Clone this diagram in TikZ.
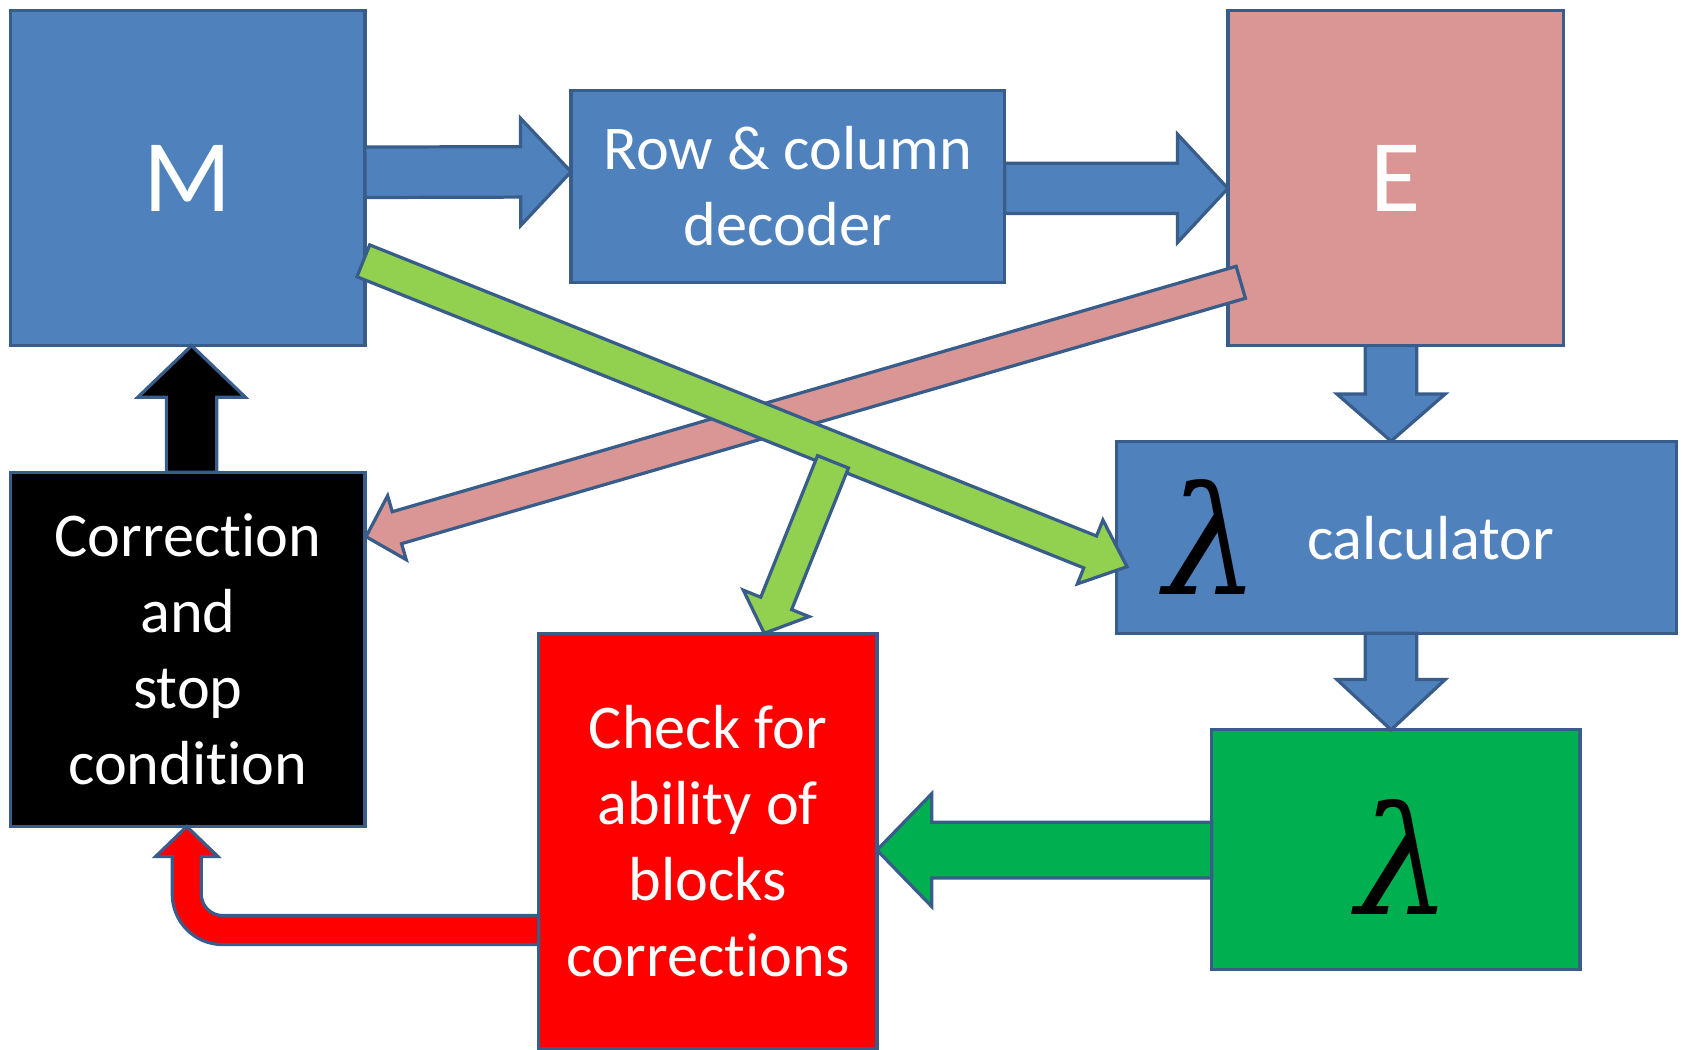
\documentclass[tikz,border=0pt]{standalone}
\usepackage{fontspec}
\setmainfont{Carlito}[Ligatures=NoCommon]
\newfontfamily\lamfont{DejaVu Serif}
\usetikzlibrary{calc}
\definecolor{bblue}{HTML}{4F81BD}
\definecolor{bordc}{HTML}{385D8A}
\definecolor{epink}{HTML}{D99694}
\definecolor{lgreen}{HTML}{92D050}
\definecolor{dgreen}{HTML}{00B050}
\definecolor{rred}{HTML}{FF0000}
% #1 fill, #2 from, #3 to, #4 shaft half width, #5 head half width, #6 head length
\newcommand\blockarrow[6]{%
  \coordinate (ba-h) at ($(#3)!#6!(#2)$);
  \filldraw[arrowline, fill=#1]
    ($(#2)!#4!90:(#3)$) -- ($(ba-h)!#4!-90:(#2)$) -- ($(ba-h)!#5!-90:(#2)$) -- (#3)
    -- ($(ba-h)!#5!90:(#2)$) -- ($(ba-h)!#4!90:(#2)$) -- ($(#2)!#4!-90:(#3)$) -- cycle;
}
\begin{document}
\begin{tikzpicture}[x=1pt,y=-1pt,
  box/.style={draw=bordc, line width=3pt, inner sep=0pt, outer sep=0pt, text=white, align=center, font=\fontsize{58}{71}\selectfont},
  big/.style={font=\fontsize{96}{110}\selectfont},
  lam/.style={inner sep=0pt, outer sep=0pt, text=black, font=\lamfont\itshape\fontsize{140}{140}\selectfont},
  lbl/.style={inner sep=0pt, outer sep=0pt, text=white, font=\fontsize{58}{71}\selectfont},
  arrowline/.style={draw=bordc, line width=3pt, line join=miter}]
\useasboundingbox (0,0) rectangle (1568,978);

% boxes
\node[box, fill=bblue, minimum width=330pt, minimum height=312pt, big] (M) at (175,166) {M};
\node[box, fill=bblue, minimum width=404pt, minimum height=179pt] (Dec) at (734,173.5) {Row \& column\\decoder};
\node[box, fill=epink, minimum width=313pt, minimum height=312pt, big] (E) at (1300.5,166) {E};
\node[box, fill=bblue, minimum width=522pt, minimum height=179pt] (Calc) at (1301,500.5) {};
\node[lam] (CalcL) at (1129,500) {λ};
\node[lbl] (CalcT) at (1333,501) {calculator};
\node[box, fill=dgreen, minimum width=343pt, minimum height=223pt] (Lam) at (1300.5,791.5) {};
\node[lam] (LamL) at (1308,798) {λ};
\node[box, fill=rred, minimum width=315pt, minimum height=387pt] (Red) at (659.5,783.5) {Check for\\ability of\\blocks\\corrections};
\node[box, fill=black, minimum width=330pt, minimum height=330pt] (Corr) at (175,605) {Correction\\and\\stop\\condition};

% straight block arrows
\coordinate (a1) at ($(M.east)+(0,-5.5)$);
\coordinate (b1) at ($(Dec.west)+(0,-13.5)$);
\blockarrow{bblue}{a1}{b1}{23.5pt}{50pt}{47pt}

\coordinate (a2) at ($(Dec.east)+(0,2)$);
\coordinate (b2) at ($(E.west)+(0,9.5)$);
\blockarrow{bblue}{a2}{b2}{23.5pt}{50.5pt}{47pt}

\coordinate (a3) at ($(E.south)+(-4.5,0)$);
\coordinate (b3) at ($(Calc.north)+(-5,0)$);
\blockarrow{bblue}{a3}{b3}{24pt}{50.5pt}{44pt}

\coordinate (a4) at ($(Calc.south)+(-5,0)$);
\coordinate (b4) at ($(Lam.north)+(-4.5,0)$);
\blockarrow{bblue}{a4}{b4}{24pt}{50.5pt}{47pt}

\coordinate (a5) at ($(Lam.west)+(0,0.5)$);
\coordinate (b5) at ($(Red.east)+(0,8.5)$);
\blockarrow{dgreen}{a5}{b5}{26pt}{52.5pt}{51pt}

\coordinate (a6) at ($(Corr.north)+(3.5,0)$);
\coordinate (b6) at ($(M.south)+(3.5,0)$);
\blockarrow{black}{a6}{b6}{23.5pt}{50pt}{48pt}

% red U-turn arrow
\coordinate (ut) at ($(Corr.south)+(-1,0)$);
\coordinate (us) at ($(Red.west)+(0,83)$);
\coordinate (uc) at (ut |- us);
\filldraw[arrowline, fill=rred] ($(us)+(0,-13.5)$) -- ($(uc)+(33.5,-13.5)$)
  .. controls ($(uc)+(22.5,-13.5)$) and ($(uc)+(13.5,-22.5)$) .. ($(uc)+(13.5,-33.5)$)
  -- ($(ut)+(13.5,28)$) -- ($(ut)+(29,28)$) -- (ut) -- ($(ut)+(-29,28)$) -- ($(ut)+(-13.5,28)$)
  -- ($(uc)+(-13.5,-33.5)$)
  .. controls ($(uc)+(-13.5,-7.5)$) and ($(uc)+(7.5,13.5)$) .. ($(uc)+(33.5,13.5)$)
  -- ($(us)+(0,13.5)$) -- cycle;

% diagonal arrows
\coordinate (a9) at ($(E.west)+(12,97)$);
\coordinate (b9) at ($(Corr.east)+(1,-105)$);
\blockarrow{epink}{a9}{b9}{15.5pt}{31pt}{30pt}

\coordinate (a8) at ($(M.east)+(-1.5,77)$);
\coordinate (b8) at ($(Calc.west)+(10,27.5)$);
\blockarrow{lgreen}{a8}{b8}{16pt}{32pt}{37pt}

\coordinate (a10) at ($($(a8)!0.615!(b8)$)+(0,12)$);
\coordinate (b10) at ($(Red.north)+(52.5,0)$);
\blockarrow{lgreen}{a10}{b10}{15.5pt}{33pt}{30pt}
\end{tikzpicture}
\end{document}
